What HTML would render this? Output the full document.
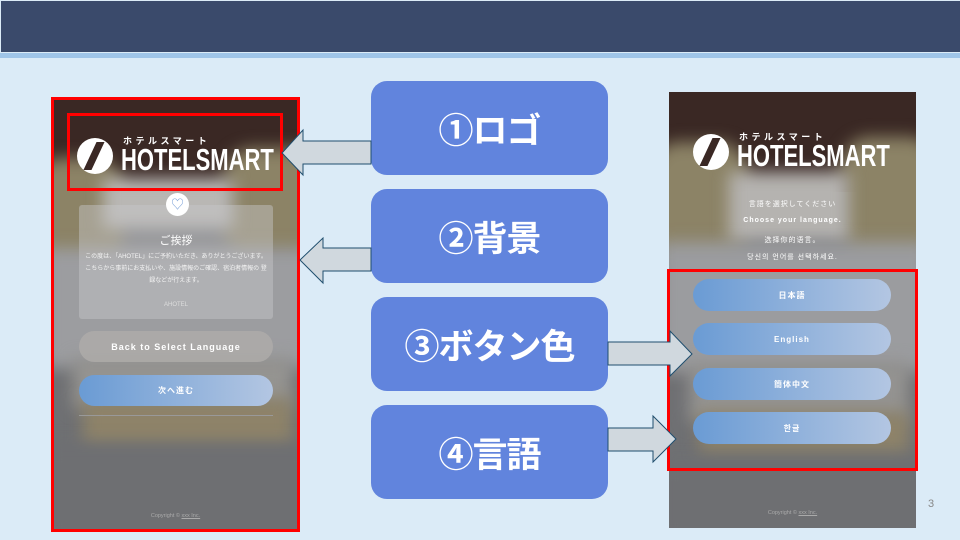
<!DOCTYPE html>
<html><head><meta charset="utf-8"><style>
*{margin:0;padding:0;box-sizing:border-box}
body{width:960px;height:540px;background:#dbebf7;position:relative;overflow:hidden;font-family:"Liberation Sans","Noto Sans CJK JP",sans-serif}
.abs{position:absolute}
.hdr{left:1px;top:1px;width:959px;height:51px;background:#3a4a6b}
.band{left:0;top:53px;width:960px;height:5px;background:#9fc5e8}
.box{position:absolute;left:371px;width:237px;height:94px;background:#6184dd;border-radius:16px;color:#fff;font-weight:bold;font-size:35px;display:flex;align-items:center;justify-content:center;letter-spacing:-1px}
.phone{position:absolute;overflow:hidden}
.blob{position:absolute;filter:blur(8px)}
.logo{position:absolute;color:#fff;white-space:nowrap}
.logo .c{position:absolute;width:36px;height:36px;border-radius:50%;background:#fff}
.logo .kt{position:absolute;font-size:9px;letter-spacing:3.5px;font-weight:bold;white-space:nowrap}
.logo .hs{position:absolute;font-size:31px;line-height:31px;font-weight:bold;letter-spacing:0px;transform:scaleX(0.71);transform-origin:left;white-space:nowrap}
.btn{position:absolute;border-radius:16px;color:#fff;font-size:8px;font-weight:bold;letter-spacing:1px;display:flex;align-items:center;justify-content:center;background:linear-gradient(90deg,#6a9bd4,#b3c6e2);white-space:nowrap}
.red{position:absolute;border:3px solid #ff0000}
.t{white-space:nowrap}
</style></head><body>
<div class="abs hdr"></div><div class="abs band"></div>

<!-- Left phone -->
<div class="phone" style="left:53px;top:98px;width:245px;height:432px;background:#6f7073">
  <div class="blob" style="left:-10px;top:-10px;width:270px;height:100px;background:#3a2824;filter:none"></div>
  <div class="blob" style="left:-20px;top:60px;width:90px;height:110px;background:#8c8366;border-radius:30%"></div>
  <div class="blob" style="left:170px;top:50px;width:100px;height:110px;background:#8c8366;border-radius:30%"></div>
  <div class="blob" style="left:50px;top:80px;width:130px;height:50px;background:#b9b7b4"></div>
  <div class="blob" style="left:-10px;top:150px;width:270px;height:120px;background:#9c9da0"></div>
  <div class="blob" style="left:20px;top:260px;width:220px;height:50px;background:#959491"></div>
  <div class="blob" style="left:30px;top:300px;width:210px;height:50px;background:#8e8369"></div>
  <div class="blob" style="left:-10px;top:345px;width:270px;height:100px;background:#6e6f72"></div>
  <div class="logo" style="left:24px;top:40px">
    <div class="c" style="left:0;top:0"></div>
    <div style="position:absolute;left:13px;top:4px;width:8px;height:28px;background:#3a2824;transform:skewX(-25deg)"></div>
    <div class="kt" style="left:46px;top:-4px">ホテルスマート</div>
    <div class="hs" style="left:44px;top:6px">HOTELSMART</div>
  </div>
  <div class="abs" style="left:26px;top:107px;width:194px;height:114px;background:rgba(200,200,202,0.45);border-radius:3px"></div>
  <div class="abs" style="left:113px;top:95px;width:23px;height:23px;border-radius:50%;background:#fff;color:#7aa0d8;font-size:13px;text-align:center;line-height:23px">♡</div>
  <div class="abs t" style="left:26px;top:134px;width:194px;text-align:center;color:#fff;font-size:11px">ご挨拶</div>
  <div class="abs" style="left:32px;top:153px;width:182px;text-align:center;color:#f4f4f4;font-size:6px;line-height:12px">この度は、「AHOTEL」にご予約いただき、ありがとうございます。<br>こちらから事前にお支払いや、施設情報のご確認、宿泊者情報の 登録などが行えます。</div>
  <div class="abs t" style="left:26px;top:204px;width:194px;text-align:center;color:#ddd;font-size:6px">AHOTEL</div>
  <div class="btn" style="left:26px;top:233px;width:194px;height:31px;background:rgba(175,173,170,0.8);font-size:9px">Back to Select Language</div>
  <div class="btn" style="left:26px;top:277px;width:194px;height:31px">次へ進む</div>
  <div class="abs" style="left:26px;top:317px;width:194px;height:1px;background:#999"></div>
  <div class="abs t" style="left:0;top:415px;width:245px;text-align:center;color:#aaa;font-size:5.5px">Copyright © <u>xxx Inc.</u></div>
</div>
<div class="red" style="left:51px;top:97px;width:249px;height:435px"></div>
<div class="red" style="left:67px;top:113px;width:216px;height:78px"></div>

<!-- Right phone -->
<div class="phone" style="left:669px;top:92px;width:247px;height:436px;background:#6f7073">
  <div class="blob" style="left:-10px;top:-10px;width:270px;height:110px;background:#3a2824;filter:none"></div>
  <div class="blob" style="left:-20px;top:50px;width:100px;height:120px;background:#8c8366;border-radius:30%"></div>
  <div class="blob" style="left:170px;top:45px;width:100px;height:125px;background:#8c8366;border-radius:30%"></div>
  <div class="blob" style="left:60px;top:80px;width:120px;height:70px;background:#b5b3b0"></div>
  <div class="blob" style="left:-10px;top:150px;width:270px;height:130px;background:#9b9c9f"></div>
  <div class="blob" style="left:20px;top:270px;width:220px;height:60px;background:#949391"></div>
  <div class="blob" style="left:30px;top:320px;width:210px;height:40px;background:#8e8369"></div>
  <div class="blob" style="left:-10px;top:370px;width:270px;height:80px;background:#6e6f72"></div>
  <div class="logo" style="left:24px;top:42px">
    <div class="c" style="left:0;top:0"></div>
    <div style="position:absolute;left:13px;top:4px;width:8px;height:28px;background:#3a2824;transform:skewX(-25deg)"></div>
    <div class="kt" style="left:46px;top:-4px">ホテルスマート</div>
    <div class="hs" style="left:44px;top:6px">HOTELSMART</div>
  </div>
  <div class="abs t" style="left:0;top:107px;width:247px;text-align:center;color:#fff;font-size:7px;letter-spacing:1px">言語を選択してください</div>
  <div class="abs t" style="left:0;top:125px;width:247px;text-align:center;color:#fff;font-size:7px;font-weight:bold;letter-spacing:1px">Choose your language.</div>
  <div class="abs t" style="left:0;top:143px;width:247px;text-align:center;color:#fff;font-size:7px;letter-spacing:1px">选择你的语言。</div>
  <div class="abs t" style="left:0;top:160px;width:247px;text-align:center;color:#fff;font-size:7px;letter-spacing:1px">당신의 언어를 선택하세요.</div>
  <div class="btn" style="left:24px;top:187px;width:198px;height:32px">日本語</div>
  <div class="btn" style="left:24px;top:231px;width:198px;height:32px">English</div>
  <div class="btn" style="left:24px;top:276px;width:198px;height:32px">簡体中文</div>
  <div class="btn" style="left:24px;top:320px;width:198px;height:32px">한글</div>
  <div class="abs t" style="left:0;top:418px;width:247px;text-align:center;color:#aaa;font-size:5.5px">Copyright © <u>xxx Inc.</u></div>
</div>
<div class="red" style="left:667px;top:269px;width:251px;height:202px"></div>

<!-- Boxes -->
<div class="box" style="top:81px">①ロゴ</div>
<div class="box" style="top:189px">②背景</div>
<div class="box" style="top:297px">③ボタン色</div>
<div class="box" style="top:405px">④言語</div>

<!-- Arrows -->
<svg class="abs" style="left:0;top:0" width="960" height="540">
<g fill="#d0d8de" stroke="#1f4e6e" stroke-width="1">
<polygon points="371,141 303,141 303,130 282,153 303,175 303,164 371,164"/>
<polygon points="371,248 323,248 323,238 300,260 323,283 323,271 371,271"/>
<polygon points="608,342 670,342 670,331 692,354 670,376 670,365 608,365"/>
<polygon points="608,428 653,428 653,416 676,439 653,462 653,451 608,451"/>
</g>
</svg>
<div class="abs" style="left:928px;top:498px;color:#888;font-size:11px">3</div>
</body></html>
